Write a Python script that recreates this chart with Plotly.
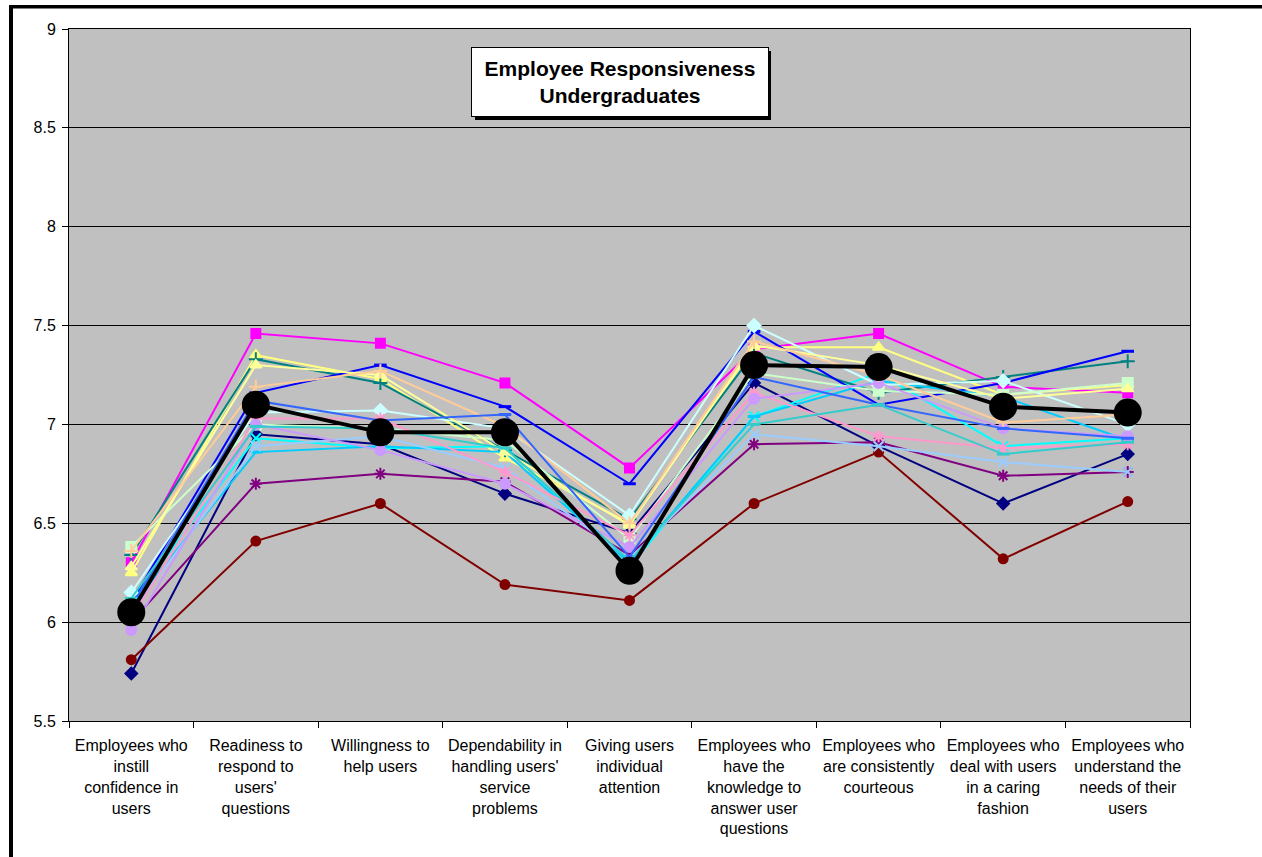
import plotly.graph_objects as go

categories = [
    "Employees who<br>instill<br>confidence in<br>users",
    "Readiness to<br>respond to<br>users'<br>questions",
    "Willingness to<br>help users",
    "Dependability in<br>handling users'<br>service<br>problems",
    "Giving users<br>individual<br>attention",
    "Employees who<br>have the<br>knowledge to<br>answer user<br>questions",
    "Employees who<br>are consistently<br>courteous",
    "Employees who<br>deal with users<br>in a caring<br>fashion",
    "Employees who<br>understand the<br>needs of their<br>users",
]

navy = [5.74, 6.95, 6.90, 6.65, 6.45, 7.21, 6.89, 6.60, 6.85]
magenta = [6.30, 7.46, 7.41, 7.21, 6.78, 7.38, 7.46, 7.19, 7.16]
yellow = [6.25, 7.35, 7.23, 6.83, 6.50, 7.39, 7.39, 7.15, 7.20]
cyan = [6.10, 6.93, 6.88, 6.89, 6.28, 7.04, 7.26, 6.89, 6.93]
purple = [6.00, 6.70, 6.75, 6.71, 6.34, 6.90, 6.91, 6.74, 6.76]
darkred = [5.81, 6.41, 6.60, 6.19, 6.11, 6.60, 6.86, 6.32, 6.61]
teal = [6.34, 7.33, 7.21, 6.87, 6.52, 7.36, 7.16, 7.24, 7.32]
blue = [6.10, 7.16, 7.30, 7.09, 6.70, 7.47, 7.10, 7.21, 7.37]
skyblue = [6.08, 6.86, 6.89, 6.86, 6.30, 7.04, 7.22, 7.14, 6.92]
lightcyan = [6.15, 7.06, 7.07, 6.98, 6.54, 7.50, 7.20, 7.22, 7.00]
lightgreen = [6.38, 7.00, 6.98, 6.92, 6.42, 7.26, 7.17, 7.15, 7.21]
lightyellow = [6.28, 7.30, 7.25, 6.86, 6.49, 7.40, 7.30, 7.13, 7.18]
paleblue = [6.05, 6.89, 6.94, 6.78, 6.32, 6.95, 6.89, 6.81, 6.76]
pink = [6.02, 7.03, 7.03, 6.76, 6.44, 7.16, 6.94, 6.88, 6.90]
lavender = [5.96, 7.00, 6.87, 6.70, 6.38, 7.13, 7.21, 6.98, 6.94]
tan = [6.36, 7.19, 7.27, 6.99, 6.50, 7.42, 7.25, 7.01, 7.05]
royalblue = [6.08, 7.12, 7.02, 7.05, 6.33, 7.24, 7.10, 6.98, 6.93]
aqua = [6.12, 6.99, 6.98, 6.88, 6.31, 7.00, 7.10, 6.85, 6.91]
average = [6.05, 7.10, 6.96, 6.96, 6.26, 7.30, 7.29, 7.09, 7.06]

series = [
    (navy, "#000080", "diamond", 9),
    (magenta, "#FF00FF", "square", 9),
    (yellow, "#FFFF80", "triangle-up", 10),
    (cyan, "#00FFFF", "x-thin-open", 10),
    (purple, "#800080", "asterisk-open", 10),
    (darkred, "#800000", "circle", 9),
    (teal, "#008080", "cross-thin-open", 10),
    (blue, "#0000FF", "line-ew-open", 9),
    (skyblue, "#00CCFF", "line-ew-open", 9),
    (lightcyan, "#CCFFFF", "diamond", 10),
    (lightgreen, "#CCFFCC", "square", 10),
    (lightyellow, "#FFFF99", "triangle-up", 10),
    (paleblue, "#99CCFF", "x-thin-open", 10),
    (pink, "#FF99CC", "asterisk-open", 10),
    (lavender, "#CC99FF", "circle", 10),
    (tan, "#FFCC99", "cross-thin-open", 10),
    (royalblue, "#3366FF", "line-ew-open", 9),
    (aqua, "#33CCCC", "line-ew-open", 9),
]

fig = go.Figure()
for vals, col, sym, sz in series:
    lw = 3 if sym.startswith("line") else 2
    fig.add_trace(go.Scatter(
        x=categories, y=vals, mode="lines+markers",
        line=dict(color=col, width=2),
        marker=dict(symbol=sym, size=sz, color=col, line=dict(color=col, width=lw)),
        showlegend=False, hoverinfo="skip",
    ))

fig.add_trace(go.Scatter(
    x=categories, y=average, mode="lines+markers",
    line=dict(color="black", width=4),
    marker=dict(symbol="circle", size=28, color="black"),
    showlegend=False, hoverinfo="skip",
))

W, H = 1262, 857
L, R, T, B = 69, 1190, 29, 721


def px(x):
    return (x - L) / (R - L)


def py(y):
    return (B - y) / (B - T)


shapes = [
    # page border (left + top)
    dict(type="rect", xref="paper", yref="paper", x0=px(9), x1=px(13), y0=py(857), y1=py(5),
         fillcolor="black", line=dict(width=0), layer="above"),
    dict(type="rect", xref="paper", yref="paper", x0=px(9), x1=px(1262), y0=py(8.5), y1=py(5),
         fillcolor="black", line=dict(width=0), layer="above"),
    # title shadow
    dict(type="rect", xref="paper", yref="paper", x0=px(475), x1=px(771), y0=py(120), y1=py(51),
         fillcolor="black", line=dict(width=0), layer="above"),
]

fig.update_layout(
    width=W, height=H,
    margin=dict(l=L, r=W - R, t=T, b=H - B, autoexpand=False),
    paper_bgcolor="white", plot_bgcolor="#C0C0C0",
    font=dict(family="Liberation Sans, Arial, sans-serif", size=16, color="black"),
    shapes=shapes,
    annotations=[dict(
        text="<b>Employee Responsiveness<br>Undergraduates</b>",
        xref="paper", yref="paper", x=px(620), y=py(82), xanchor="center", yanchor="middle",
        showarrow=False, bgcolor="white", bordercolor="black", borderwidth=1,
        width=290, height=62, borderpad=3,
        font=dict(family="Liberation Sans, Arial, sans-serif", size=21, color="black"),
    )],
    xaxis=dict(
        type="category", range=[-0.5, 8.5], tickson="boundaries", ticks="outside", ticklen=6,
        tickcolor="black", showline=True, linecolor="black", linewidth=1, mirror=True,
        showgrid=False, tickfont=dict(size=16), tickangle=0, ticklabelstandoff=10,
    ),
    yaxis=dict(
        range=[5.5, 9], dtick=0.5, tick0=5.5, ticks="outside", ticklen=6, tickcolor="black",
        showline=True, linecolor="black", linewidth=1, mirror=True,
        showgrid=True, gridcolor="black", gridwidth=1, zeroline=False,
        tickformat="~g", tickfont=dict(size=16), ticklabelstandoff=3,
    ),
)

fig.write_html("out.html", post_script="document.body.style.margin='0';",
               config={"displayModeBar": False})
